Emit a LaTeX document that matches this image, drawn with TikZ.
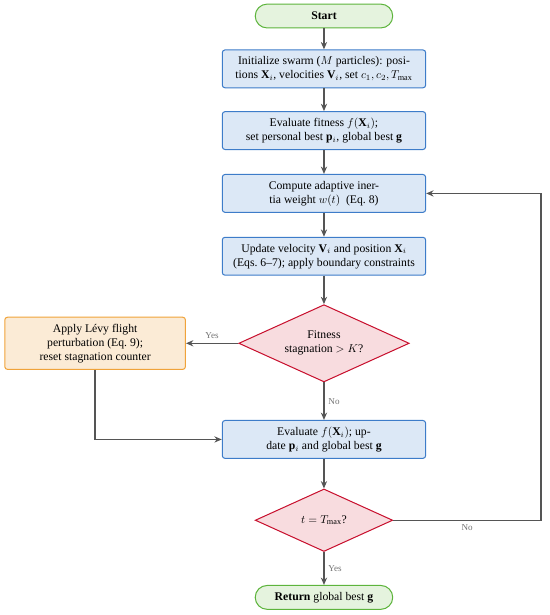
\documentclass[tikz,border=0pt]{standalone}
\usepackage{amsmath,amssymb,xcolor,tikz}
\usepackage{fontspec}
\setmainfont{Liberation Serif}
\usetikzlibrary{positioning,arrows.meta,shapes.geometric,calc}
\definecolor{psoblue}{HTML}{3D7CC9}
\definecolor{psobluefill}{HTML}{DCE8F6}
\definecolor{psogreen}{HTML}{5DB43C}
\definecolor{psogreenfill}{HTML}{E5F3DE}
\definecolor{psored}{HTML}{C8102E}
\definecolor{psoredfill}{HTML}{F8DCDF}
\definecolor{psoorange}{HTML}{F0A33A}
\definecolor{psoorangefill}{HTML}{FBEBD6}
\definecolor{psoline}{HTML}{555555}

\begin{document}
\begin{tikzpicture}[
font=\fontsize{10.3}{12.3}\selectfont,
proc/.style={draw=psoblue, fill=psobluefill, rounded corners=2.5pt, line width=0.9pt, align=center, minimum height=33.4pt, minimum width=179pt, inner sep=2pt},
term/.style={draw=psogreen, fill=psogreenfill, rounded corners=10.5pt, line width=0.9pt, align=center, minimum height=21pt, minimum width=121pt, inner sep=2pt},
decide/.style={diamond, shape aspect=2.2, draw=psored, fill=psoredfill, line width=0.9pt, align=center, inner sep=0pt},
levybox/.style={draw=psoorange, fill=psoorangefill, rounded corners=2.5pt, line width=0.9pt, align=center, minimum height=46pt, minimum width=159pt, inner sep=2pt},
arrow/.style={-{Stealth[length=6.5pt,width=5.5pt]}, line width=1.2pt, draw=psoline},
lbl/.style={font=\footnotesize, text=black!55},
node distance=21pt
]
\useasboundingbox (-285.1pt,14.1pt) rectangle (198.9pt,-527.1pt);

\node[term] (start) at (0,0) {\textbf{Start}};
\node[proc, below=18.4pt of start] (init) {Initialize swarm ($M$ particles): posi-\\tions $\mathbf{X}_i$, velocities $\mathbf{V}_i$, set $c_1, c_2, T_{\max}$};
\node[proc, below=20pt of init] (evalfit) {Evaluate fitness $f(\mathbf{X}_i)$;\\set personal best $\mathbf{p}_i$, global best $\mathbf{g}$};
\node[proc, below=of evalfit] (inertia) {Compute adaptive iner-\\tia weight $w(t)$\ \ (Eq.~8)};
\node[proc, below=of inertia] (update) {Update velocity $\mathbf{V}_i$ and position $\mathbf{X}_i$\\(Eqs.~6--7); apply boundary constraints};
\node[decide, minimum width=150pt, minimum height=68pt, below=25pt of update] (stag) {Fitness\\stagnation $>K$?};
\node[levybox, left=46pt of stag] (levy) {Apply L\'evy flight\\perturbation (Eq.~9);\\reset stagnation counter};
\node[proc, below=33pt of stag] (evalbest) {Evaluate $f(\mathbf{X}_i)$; up-\\date $\mathbf{p}_i$ and global best $\mathbf{g}$};
\node[decide, minimum width=121pt, minimum height=55pt, below=26pt of evalbest] (tmax) {$t = T_{\max}$?};
\node[term, below=29pt of tmax] (ret) {\textbf{Return} global best $\mathbf{g}$};
\coordinate[right=130pt of tmax.east] (loop);

\draw[arrow] (start)--(init);
\draw[arrow] (init)--(evalfit);
\draw[arrow] (evalfit)--(inertia);
\draw[arrow] (inertia)--(update);
\draw[arrow] (update)--(stag);
\draw[arrow] (stag)--node[lbl, above]{Yes}(levy);
\draw[arrow] (stag)--node[lbl, right]{No}(evalbest);
\draw[arrow] (levy.south)|-(evalbest.west);
\draw[arrow] (evalbest)--(tmax);
\draw[arrow] (tmax)--node[lbl, right]{Yes}(ret);
\draw[arrow] (tmax.east)--node[lbl, below]{No}(loop)|-(inertia.east);
\end{tikzpicture}
\end{document}
